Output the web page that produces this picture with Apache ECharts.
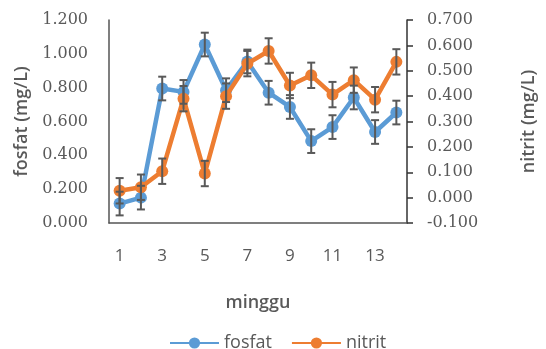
<!DOCTYPE html>
<html><head><meta charset="utf-8">
<script src="https://cdn.jsdelivr.net/npm/echarts@6/dist/echarts.min.js"></script>
<style>html,body{margin:0;padding:0;background:#fff}#c{width:546px;height:349px}</style>
</head><body><div id="c"></div>
<script>
const weeks = ['1','2','3','4','5','6','7','8','9','10','11','12','13','14'];
const fosfat = [0.115, 0.150, 0.795, 0.775, 1.055, 0.785, 0.955, 0.770, 0.686, 0.484, 0.567, 0.742, 0.538, 0.653];
const nitrit = [0.027, 0.041, 0.104, 0.390, 0.095, 0.400, 0.528, 0.578, 0.442, 0.482, 0.406, 0.463, 0.386, 0.535];
const fosfatErr = [0.07, 0.07, 0.07, 0.07, 0.07, 0.07, 0.07, 0.07, 0.07, 0.07, 0.07, 0.07, 0.07, 0.07];
const nitritErr = [0.05, 0.05, 0.05, 0.05, 0.05, 0.05, 0.05, 0.05, 0.05, 0.05, 0.05, 0.05, 0.05, 0.05];
const leftTicks = {min: 0, max: 1.2, interval: 0.2};
const rightTicks = {min: -0.1, max: 0.7, interval: 0.1};

const chart = echarts.init(document.getElementById('c'), null, {renderer: 'canvas'});
const gray = '#595959';
function errData(vals, errs){ return vals.map((v,i)=>[i, v-errs[i], v+errs[i]]); }
function errRender(params, api){
  const x = api.value(0);
  const lo = api.coord([x, api.value(1)]);
  const hi = api.coord([x, api.value(2)]);
  const hw = 4;
  const st = {stroke: gray, lineWidth: 2};
  return {type:'group', children:[
    {type:'line', shape:{x1:lo[0],y1:lo[1],x2:hi[0],y2:hi[1]}, style:st},
    {type:'line', shape:{x1:lo[0]-hw,y1:lo[1],x2:lo[0]+hw,y2:lo[1]}, style:st},
    {type:'line', shape:{x1:hi[0]-hw,y1:hi[1],x2:hi[0]+hw,y2:hi[1]}, style:st}
  ]};
}
const numFont = {color: gray, fontSize: 16, fontFamily: 'DejaVu Serif'};
const nameFont = {color: gray, fontSize: 18, fontWeight: 600, fontFamily: 'Open Sans'};
chart.setOption({
  animation: false,
  grid: {left: 109, right: 126, top: 20, bottom: 126},
  legend: {
    top: 334, left: 169, padding: 0, itemWidth: 49, itemHeight: 14, itemGap: 19,
    textStyle: {color: gray, fontSize: 18, fontFamily: 'Open Sans'},
    data: ['fosfat', 'nitrit']
  },
  xAxis: {
    type: 'category', data: weeks, boundaryGap: true,
    name: 'minggu', nameLocation: 'middle', nameGap: 71,
    nameTextStyle: nameFont,
    axisLine: {lineStyle: {color: '#555', width: 1.5}},
    axisTick: {show: false},
    axisLabel: {interval: 1, color: gray, fontSize: 17, fontFamily: 'Open Sans', margin: 25}
  },
  yAxis: [{
    type: 'value', min: leftTicks.min, max: leftTicks.max, interval: leftTicks.interval,
    name: 'fosfat (mg/L)', nameLocation: 'middle', nameGap: 78,
    nameTextStyle: nameFont,
    axisLine: {show: true, lineStyle: {color: '#555', width: 1.5}},
    axisTick: {show: false},
    splitLine: {show: false},
    axisLabel: Object.assign({formatter: v => v.toFixed(3), margin: 21}, numFont)
  }, {
    type: 'value', position: 'right', min: rightTicks.min, max: rightTicks.max, interval: rightTicks.interval,
    name: 'nitrit (mg/L)', nameLocation: 'middle', nameGap: 113,
    nameTextStyle: nameFont,
    axisLine: {show: true, lineStyle: {color: '#333', width: 1.5}},
    axisTick: {show: true, inside: false, length: 6, lineStyle: {color: '#333', width: 1.5}},
    splitLine: {show: false},
    axisLabel: Object.assign({formatter: v => v.toFixed(3), margin: 20}, numFont)
  }],
  series: [
    {name: 'fosfat', type: 'line', yAxisIndex: 0, data: fosfat, symbol: 'circle', symbolSize: 12,
     lineStyle: {width: 4.5, color: '#5B9BD5'}, itemStyle: {color: '#5B9BD5'}, z: 2},
    {name: 'nitrit', type: 'line', yAxisIndex: 1, data: nitrit, symbol: 'circle', symbolSize: 12,
     lineStyle: {width: 4.5, color: '#ED7D31'}, itemStyle: {color: '#ED7D31'}, z: 3},
    {type: 'custom', yAxisIndex: 0, data: errData(fosfat, fosfatErr), renderItem: errRender, z: 5, silent: true},
    {type: 'custom', yAxisIndex: 1, data: errData(nitrit, nitritErr), renderItem: errRender, z: 5, silent: true}
  ]
});
</script></body></html>
